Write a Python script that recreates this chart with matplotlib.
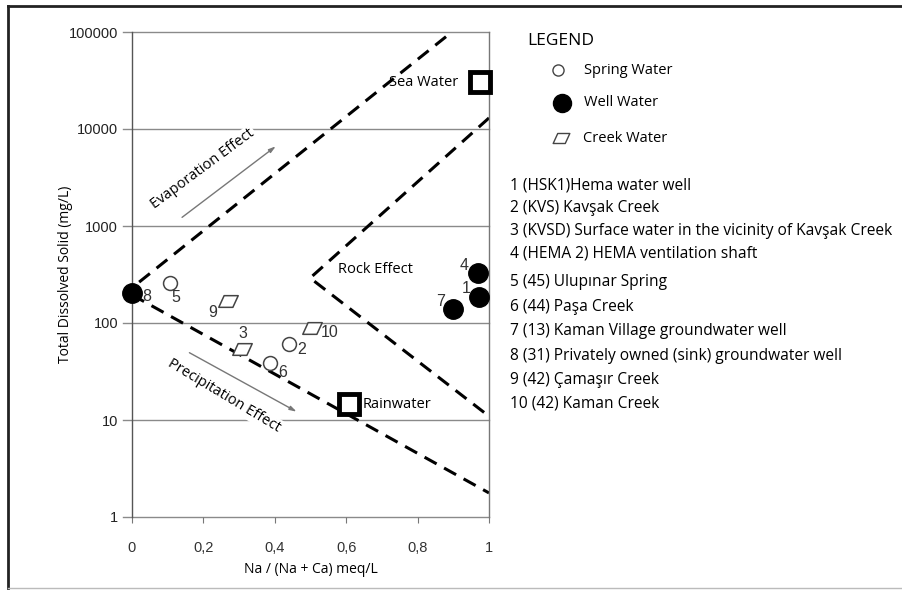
import matplotlib
matplotlib.use("Agg")
import matplotlib.pyplot as plt
from matplotlib.path import Path
from matplotlib.lines import Line2D
import numpy as np

# ---------------- data ----------------
spring_x = [0.106, 0.44, 0.387]
spring_y = [258, 61, 39]
spring_lbl = ["5", "2", "6"]

well_x = [0.0, 0.969, 0.972, 0.899]
well_y = [204, 327, 185, 139]
well_lbl = ["8", "4", "1", "7"]

creek_x = [0.269, 0.308, 0.504]
creek_y = [169, 54, 89]
creek_lbl = ["9", "3", "10"]

ref_x = [0.975, 0.608]
ref_y = [30500, 14.6]
ref_lbl = ["Sea Water", "Rainwater"]

# Gibbs boundary lines
upper_bx = [0.02, 0.896]
upper_by = [264, 100000]
lower_bx = [0.0, 1.0]
lower_by = [195, 1.77]
rock_bx = [1.0, 0.499, 0.995]
rock_by = [13000, 291, 11.3]
evap_ax = [0.134, 0.409]
evap_ay = [1180, 6900]
prec_ax = [0.154, 0.468]
prec_ay = [51, 11.8]

xticks = [0, 0.2, 0.4, 0.6, 0.8, 1.0]
xticklabels = ["0", "0,2", "0,4", "0,6", "0,8", "1"]
yticks = [1, 10, 100, 1000, 10000, 100000]
yticklabels = ["1", "10", "100", "1000", "10000", "100000"]

legend_items = ["Spring Water", "Well Water", "Creek Water"]
sample_list = [
    "1 (HSK1)Hema water well",
    "2 (KVS) Kavşak Creek",
    "3 (KVSD) Surface water in the vicinity of Kavşak Creek",
    "4 (HEMA 2) HEMA ventilation shaft",
    "5 (45) Ulupınar Spring",
    "6 (44) Paşa Creek",
    "7 (13) Kaman Village groundwater well",
    "8 (31) Privately owned (sink) groundwater well",
    "9 (42) Çamaşır Creek",
    "10 (42) Kaman Creek",
]

# ---------------- figure ----------------
W, H = 902, 592
fig = plt.figure(figsize=(W / 100, H / 100), dpi=100)
fig.patch.set_facecolor("white")

sans = ["Liberation Sans", "DejaVu Sans"]
body = ["Open Sans", "DejaVu Sans"]

ax = fig.add_axes([132 / W, 1 - 517 / H, 357 / W, 485 / H])
ax.set_yscale("log")
ax.set_xlim(0, 1)
ax.set_ylim(1, 100000)

for s in ["top", "bottom"]:
    ax.spines[s].set_visible(False)
ax.spines["left"].set_color("#555555")
ax.spines["right"].set_color("#777777")
ax.spines["left"].set_linewidth(1.0)
ax.spines["right"].set_linewidth(1.0)

for yv in yticks:
    ax.plot([-0.025, 1.0], [yv, yv], color="#8a8a8a", lw=1.0, zorder=1, clip_on=False)

ax.set_xticks(xticks)
ax.set_xticklabels(xticklabels, fontsize=10.5, family=sans, color="#333333")
ax.set_yticks(yticks)
ax.set_yticklabels(yticklabels, fontsize=10.5, family=sans, color="#222222")
ax.yaxis.set_minor_locator(matplotlib.ticker.NullLocator())
ax.tick_params(axis="y", length=0, pad=10)
ax.tick_params(axis="x", length=4, color="#777777", pad=13)
ax.set_xlabel("Na / (Na + Ca) meq/L", fontsize=10, family=body, labelpad=5)
ax.set_ylabel("Total Dissolved Solid (mg/L)", fontsize=10, family=body, labelpad=-3)

dash = (0, (4.5, 2.8))
ax.plot(upper_bx, upper_by, color="black", lw=2.2, ls=dash, zorder=2)
ax.plot(lower_bx, lower_by, color="black", lw=2.2, ls=dash, zorder=2)
ax.plot(rock_bx, rock_by, color="black", lw=2.2, ls=dash, zorder=2)
ax.annotate("", xy=(evap_ax[1], evap_ay[1]), xytext=(evap_ax[0], evap_ay[0]),
            arrowprops=dict(arrowstyle="-|>,head_length=0.4,head_width=0.12",
                            color="#777777", lw=1.0), zorder=2)
ax.annotate("", xy=(prec_ax[1], prec_ay[1]), xytext=(prec_ax[0], prec_ay[0]),
            arrowprops=dict(arrowstyle="-|>,head_length=0.4,head_width=0.12",
                            color="#777777", lw=1.0), zorder=2)

ax.text(0.199, 3870, "Evaporation Effect", rotation=36.5, ha="center", va="center",
        fontsize=10.5, family=body, rotation_mode="anchor", zorder=3,
        bbox=dict(facecolor="white", edgecolor="none", pad=1))
ax.text(0.258, 17.7, "Precipitation Effect", rotation=-31, ha="center", va="center",
        fontsize=10.5, family=body, rotation_mode="anchor", zorder=3,
        bbox=dict(facecolor="white", edgecolor="none", pad=1))
ax.text(0.683, 360, "Rock Effect", ha="center", va="center", fontsize=10.5, family=body)

# parallelogram marker
para = Path([(-1.0, -0.6), (0.45, -0.6), (1.0, 0.6), (-0.45, 0.6), (-1.0, -0.6)],
            [Path.MOVETO, Path.LINETO, Path.LINETO, Path.LINETO, Path.CLOSEPOLY])

ax.plot(spring_x, spring_y, ls="none", marker="o", ms=10, mfc="white", mec="#444444",
        mew=1.1, zorder=5, clip_on=False)
ax.plot(well_x, well_y, ls="none", marker="o", ms=14, mfc="black", mec="black",
        zorder=5, clip_on=False)
ax.plot(creek_x, creek_y, ls="none", marker=para, ms=14, mfc="white", mec="#444444",
        mew=1.1, zorder=5, clip_on=False)
ax.plot(ref_x, ref_y, ls="none", marker="s", ms=14, mfc="white", mec="black",
        mew=3.5, zorder=5, clip_on=False)

ax.annotate(ref_lbl[0], (ref_x[0], ref_y[0]), xytext=(-22, 0), textcoords="offset pixels",
            ha="right", va="center", fontsize=10.5, family=body, zorder=6)
ax.annotate(ref_lbl[1], (ref_x[1], ref_y[1]), xytext=(14, 0), textcoords="offset pixels",
            ha="left", va="center", fontsize=10.5, family=body)

offs = {"8": (15, -4), "5": (6, -14), "9": (-15, -12), "3": (1, 15), "10": (18, -5),
        "2": (13, -6), "6": (13, -10), "4": (-14, 8), "1": (-13, 9), "7": (-12, 8)}
for xs, ys, ls_ in [(spring_x, spring_y, spring_lbl), (well_x, well_y, well_lbl),
                    (creek_x, creek_y, creek_lbl)]:
    for xv, yv, lb in zip(xs, ys, ls_):
        ax.annotate(lb, (xv, yv), xytext=offs[lb], textcoords="offset pixels",
                    ha="center", va="center", fontsize=11.5, family=sans,
                    color="#333333", zorder=6)

# ---------------- legend (overlay in pixel coords) ----------------
lax = fig.add_axes([0, 0, 1, 1])
lax.set_xlim(0, W)
lax.set_ylim(H, 0)
lax.axis("off")
lax.patch.set_alpha(0)

lax.text(527, 41, "LEGEND", fontsize=12.5, family=body, va="center", ha="left")
lax.plot([558], [70], marker="o", ms=8, mfc="white", mec="#444444", mew=1.0)
lax.plot([562], [103], marker="o", ms=13, mfc="black", mec="black")
lax.plot([561], [138], marker=para, ms=12, mfc="white", mec="#444444", mew=1.0)
leg_y = [70, 102, 138]
leg_x = [584, 584, 583]
for tx, ty, t in zip(leg_x, leg_y, legend_items):
    lax.text(tx, ty, t, fontsize=10.5, family=body, va="center", ha="left")

list_y = [185, 208, 231, 254, 282, 307, 331, 356, 380, 403]
for ty, t in zip(list_y, sample_list):
    lax.text(510, ty, t, fontsize=11.2, family=body, va="center", ha="left",
             clip_on=False)

# figure frame: dark left/top, faint bottom
fig.add_artist(Line2D([8 / W, 8 / W], [1 - 6 / H, 1 - 588 / H], transform=fig.transFigure,
                      color="#222222", lw=2.0))
fig.add_artist(Line2D([8 / W, 1.0], [1 - 6 / H, 1 - 6 / H], transform=fig.transFigure,
                      color="#222222", lw=2.0))
fig.add_artist(Line2D([8 / W, 1.0], [1 - 588 / H, 1 - 588 / H], transform=fig.transFigure,
                      color="#bbbbbb", lw=1.0))

fig.savefig("out.png", dpi=100, facecolor="white")
